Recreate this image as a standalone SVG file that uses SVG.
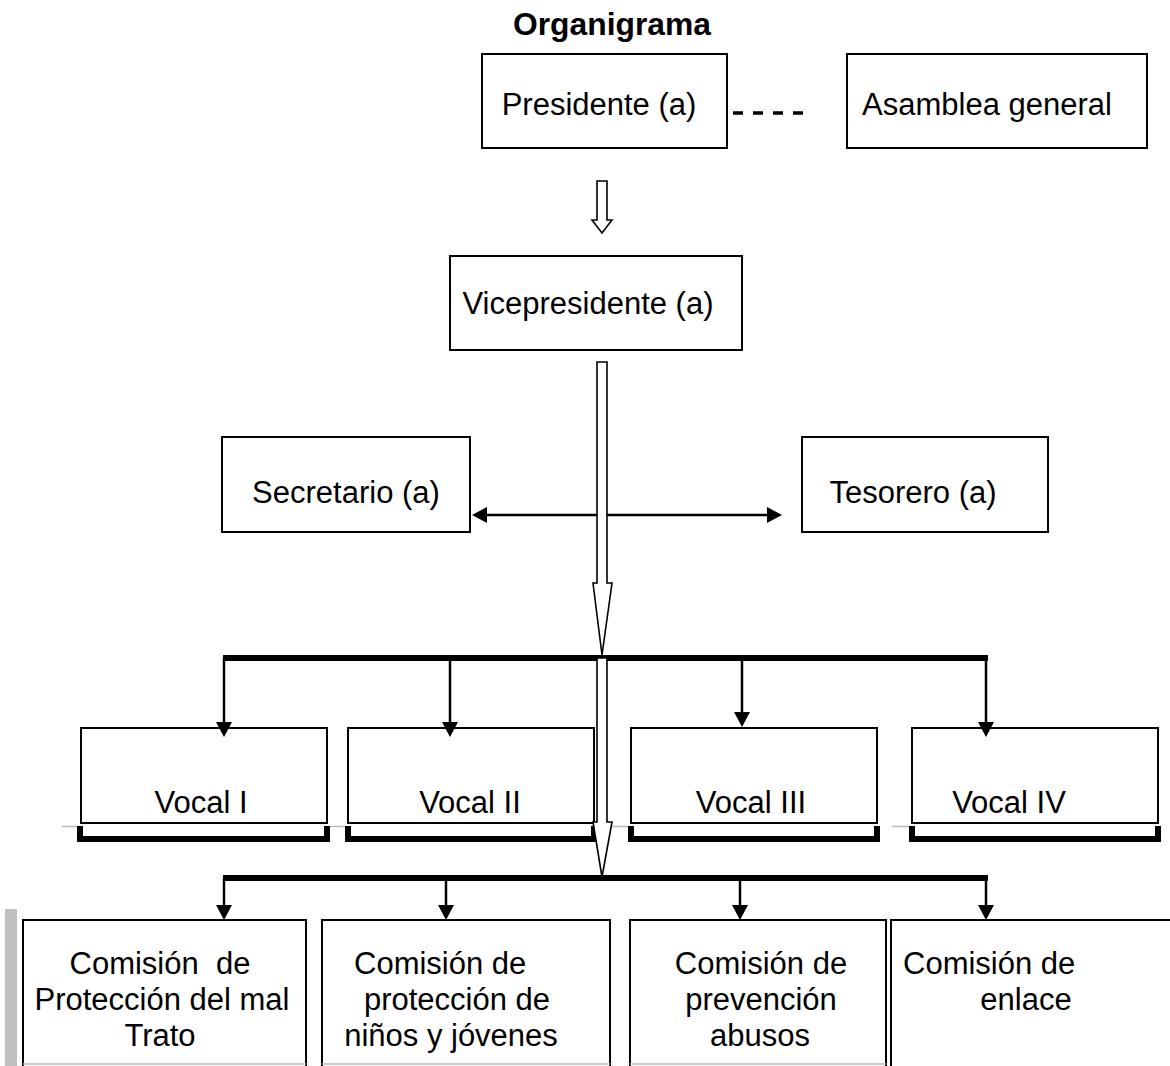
<svg xmlns="http://www.w3.org/2000/svg" width="1170" height="1066" viewBox="0 0 1170 1066">
<style>
text{font-family:"Liberation Sans",Arial,sans-serif;font-size:31px;fill:#000}
.t{text-anchor:middle}
.box{fill:#fff;stroke:#000;stroke-width:2}
.br{fill:none;stroke:#000;stroke-width:6}
.gl{stroke:#bbb;stroke-width:1.5}
.ln{stroke:#000;stroke-width:2.5;fill:none}
.bus{stroke:#000;stroke-width:6}
.hd{fill:#000}
.ha{fill:#fff;stroke:#000;stroke-width:1.6}
</style>
<rect width="1170" height="1066" fill="#fff"/>
<text x="612" y="35" class="t" font-weight="bold" font-size="28" textLength="198" lengthAdjust="spacingAndGlyphs">Organigrama</text>

<g id="gray-marks">
<rect x="5" y="909" width="12" height="160" fill="#c0c0c0"/>
<line class="gl" x1="62" y1="826.5" x2="78" y2="826.5"/>
<line class="gl" x1="329" y1="826.5" x2="346" y2="826.5"/>
<line class="gl" x1="608" y1="826.5" x2="629" y2="826.5"/>
<line class="gl" x1="892" y1="826.5" x2="910" y2="826.5"/>
</g>

<g id="presidente"><rect class="box" x="482" y="54" width="245" height="94"/><text x="599" y="115" class="t">Presidente (a)</text></g>
<g id="asamblea"><rect class="box" x="847" y="54" width="300" height="94"/><text x="987" y="115" class="t">Asamblea general</text></g>
<g id="vicepresidente"><rect class="box" x="450" y="256" width="292" height="94"/><text x="588" y="314" class="t">Vicepresidente (a)</text></g>
<g id="secretario"><rect class="box" x="222" y="437" width="248" height="95"/><text x="346" y="503" class="t">Secretario (a)</text></g>
<g id="tesorero"><rect class="box" x="802" y="437" width="246" height="95"/><text x="913" y="503" class="t">Tesorero (a)</text></g>

<g id="vocal1"><rect class="box" x="81" y="728" width="246" height="95"/><path class="br" d="M80,826V839H327V826"/><text x="201" y="813" class="t">Vocal I</text></g>
<g id="vocal2"><rect class="box" x="348" y="728" width="246" height="95"/><path class="br" d="M348,826V839H594V826"/><text x="470" y="813" class="t">Vocal II</text></g>
<g id="vocal3"><rect class="box" x="631" y="728" width="246" height="95"/><path class="br" d="M631,826V839H877V826"/><text x="751" y="813" class="t">Vocal III</text></g>
<g id="vocal4"><rect class="box" x="912" y="728" width="246" height="95"/><path class="br" d="M912,826V839H1158V826"/><text x="1009" y="813" class="t">Vocal IV</text></g>

<g id="comision1"><path d="M23,1070V920H306V1070" class="box"/><line class="gl" x1="23" y1="1064" x2="306" y2="1064"/>
<text x="160" y="974" class="t" xml:space="preserve">Comisión  de</text><text x="162" y="1010" class="t">Protección del mal</text><text x="160" y="1046" class="t">Trato</text></g>
<g id="comision2"><path d="M322,1070V920H610V1070" class="box"/><line class="gl" x1="322" y1="1064" x2="610" y2="1064"/>
<text x="354" y="974">Comisión de</text><text x="457" y="1010" class="t">protección de</text><text x="451" y="1046" class="t">niños y jóvenes</text></g>
<g id="comision3"><path d="M630,1070V920H886V1070" class="box"/><line class="gl" x1="630" y1="1064" x2="886" y2="1064"/>
<text x="761" y="974" class="t">Comisión de</text><text x="761" y="1010" class="t">prevención</text><text x="760" y="1046" class="t">abusos</text></g>
<g id="comision4"><path d="M891,1070V920H1172V1070" class="box"/>
<text x="903" y="974">Comisión de</text><text x="1026" y="1010" class="t">enlace</text></g>

<g id="connectors">
<line x1="733" y1="113" x2="803" y2="113" stroke="#000" stroke-width="3.5" stroke-dasharray="10 10"/>
<line class="ln" x1="486" y1="515" x2="768" y2="515"/>
<polygon class="hd" points="472,515 487,507 487,523"/>
<polygon class="hd" points="782,515 767,507 767,523"/>
<line class="bus" x1="223" y1="658" x2="988" y2="658"/>
<line class="ln" x1="224" y1="658" x2="224" y2="723"/><polygon class="hd" points="216,722 232,722 224,737"/>
<line class="ln" x1="450" y1="658" x2="450" y2="723"/><polygon class="hd" points="442,722 458,722 450,737"/>
<line class="ln" x1="742" y1="658" x2="742" y2="713"/><polygon class="hd" points="734,712 750,712 742,727"/>
<line class="ln" x1="986" y1="658" x2="986" y2="723"/><polygon class="hd" points="978,722 994,722 986,737"/>
<line class="bus" x1="223" y1="878" x2="988" y2="878"/>
<line class="ln" x1="224" y1="878" x2="224" y2="906"/><polygon class="hd" points="216,905 232,905 224,920"/>
<line class="ln" x1="446" y1="878" x2="446" y2="906"/><polygon class="hd" points="438,905 454,905 446,920"/>
<line class="ln" x1="740" y1="878" x2="740" y2="906"/><polygon class="hd" points="732,905 748,905 740,920"/>
<line class="ln" x1="986" y1="878" x2="986" y2="906"/><polygon class="hd" points="978,905 994,905 986,920"/>
<polygon class="ha" points="597,181 607,181 607,220 612,220 602,233 592,220 597,220"/>
<polygon class="ha" points="597,362 607,362 607,583 612,583 602,655 593,583 597,583"/>
<polygon class="ha" points="597,658 607,658 607,822 612,822 602,877 593,822 597,822"/>
</g>
</svg>
